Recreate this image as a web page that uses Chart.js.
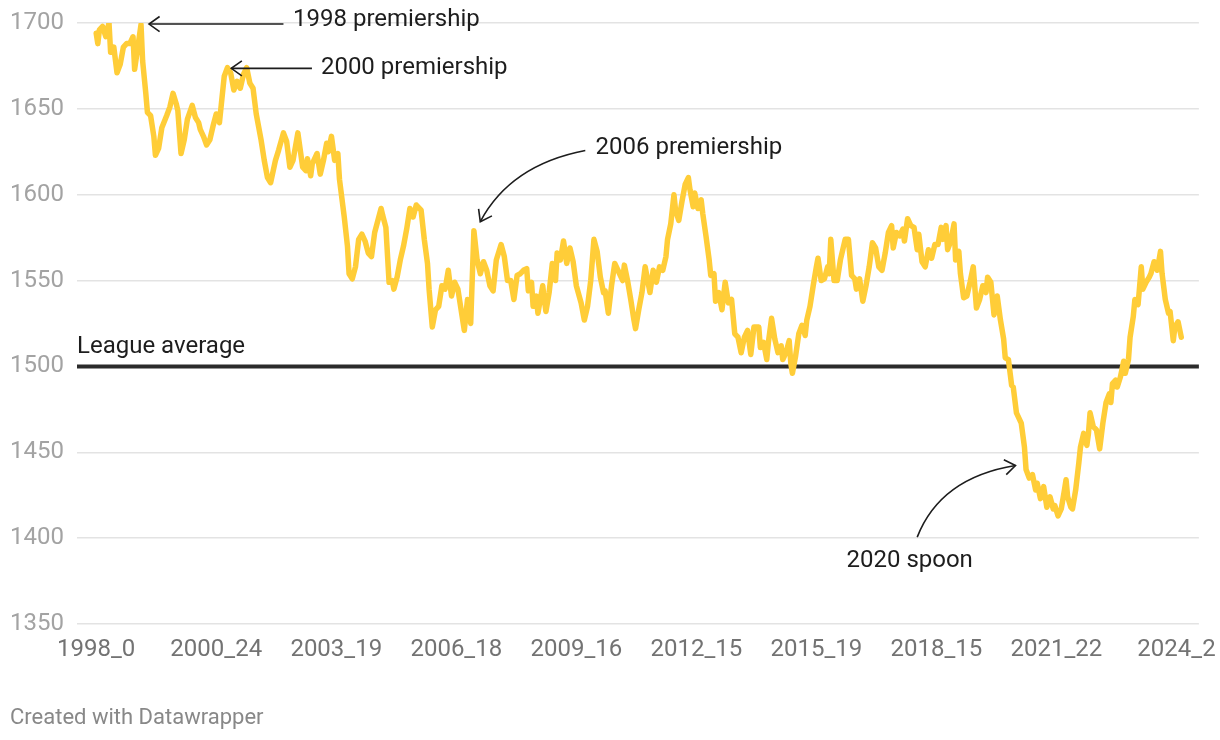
<!DOCTYPE html>
<html>
<head>
<meta charset="utf-8">
<script src="https://cdn.jsdelivr.net/npm/chart.js@4.4.1/dist/chart.umd.min.js"></script>
<style>
  html, body { margin: 0; padding: 0; background: #fff; }
  #wrap { width: 1220px; height: 740px; position: relative; }
</style>
</head>
<body>
<div id="wrap"><canvas id="chart" width="1220" height="740"></canvas></div>
<script>
// round index (season_round counted from 1998_0) and Elo rating
const rounds = [
  0,1,2,4,6,8,9,11,13,15,
  17,19,21,23,24,26,28,29,31,32,
  34,36,37,39,41,44,46,48,50,51,
  53,55,57,60,62,64,65,67,69,71,
  73,75,77,80,82,84,86,88,90,92,
  94,96,98,100,103,105,107,109,112,114,
  117,119,121,123,126,129,131,132,134,135,
  138,140,142,144,145,147,149,151,152,155,
  157,158,160,162,164,166,168,170,172,174,
  176,178,179,181,183,185,186,188,190,192,
  194,196,198,200,203,205,207,208,210,212,
  214,216,218,220,222,224,226,229,230,232,
  234,236,238,240,242,244,246,248,250,253,
  255,257,259,261,263,265,267,269,270,272,
  273,275,276,279,280,281,283,285,287,288,
  290,292,294,296,298,300,303,305,307,309,
  310,311,313,315,317,318,320,322,324,326,
  329,330,332,334,336,337,339,341,343,346,
  348,350,352,354,356,357,359,361,362,364,
  366,368,370,371,373,374,376,378,379,381,
  383,384,386,387,389,391,393,395,397,399,
  401,403,405,407,409,411,414,415,417,419,
  420,422,424,426,428,429,431,433,434,435,
  437,439,441,443,444,446,448,450,451,453,
  455,457,458,459,461,463,465,468,470,472,
  474,475,477,479,481,483,485,487,489,491,
  493,495,497,498,500,502,504,505,507,509,
  511,513,514,516,518,520,522,524,526,528,
  529,531,532,534,536,537,539,540,542,544,
  546,548,550,552,554,556,557,559,561,563,
  565,567,568,570,572,573,575,578,580,581,
  583,585,587,588,590,592,594,596,598,599,
  601,603,605,606,607,609,610,612,614,615,
  617,619,620,621,623,625,627,629,631,633,
  634,635,637,638,640,642,643,645,646,648,
  649,651,653,654,656,658,659,661,663,665,
  666,668,670,671,673,674,676,678
];
const elo = [
  1694,1688,1696,1698,1692,1700,1683,1686,1671,1676,
  1686,1688,1688,1692,1673,1686,1699,1678,1659,1648,
  1646,1634,1623,1627,1639,1646,1651,1659,1653,1649,
  1624,1632,1644,1652,1645,1642,1638,1634,1629,1632,
  1640,1647,1642,1669,1674,1671,1661,1666,1662,1670,
  1674,1665,1662,1647,1632,1620,1610,1607,1620,1626,
  1636,1631,1616,1620,1636,1616,1614,1621,1611,1618,
  1624,1612,1620,1630,1625,1634,1620,1624,1609,1587,
  1570,1554,1551,1558,1574,1577,1573,1566,1564,1578,
  1585,1592,1588,1581,1549,1550,1545,1552,1562,1570,
  1580,1592,1587,1594,1591,1574,1560,1545,1523,1533,
  1535,1547,1545,1556,1541,1549,1545,1527,1521,1539,
  1525,1579,1562,1554,1561,1556,1547,1544,1562,1571,
  1564,1550,1550,1539,1553,1554,1556,1557,1544,1549,
  1535,1541,1531,1547,1539,1532,1543,1560,1550,1566,
  1562,1573,1560,1569,1561,1547,1537,1527,1535,1550,
  1562,1574,1567,1552,1543,1544,1531,1547,1560,1556,
  1550,1559,1550,1539,1527,1522,1533,1543,1558,1543,
  1556,1549,1558,1556,1564,1574,1583,1600,1591,1585,
  1596,1606,1610,1603,1593,1601,1592,1597,1589,1576,
  1562,1553,1554,1538,1543,1533,1549,1537,1539,1519,
  1517,1508,1517,1521,1507,1523,1523,1511,1514,1504,
  1514,1528,1516,1508,1512,1504,1508,1515,1502,1496,
  1506,1519,1524,1518,1527,1535,1547,1558,1563,1550,
  1551,1558,1554,1574,1550,1550,1562,1574,1574,1553,
  1551,1545,1551,1538,1547,1558,1572,1569,1558,1556,
  1566,1578,1582,1569,1578,1576,1580,1573,1586,1582,
  1581,1568,1577,1561,1558,1568,1563,1571,1571,1581,
  1574,1582,1568,1573,1583,1562,1567,1554,1540,1541,
  1549,1558,1534,1539,1547,1543,1552,1549,1530,1541,
  1527,1516,1505,1504,1489,1488,1473,1467,1453,1440,
  1435,1437,1428,1432,1423,1430,1418,1424,1417,1419,
  1413,1417,1428,1434,1424,1418,1417,1428,1444,1453,
  1461,1454,1461,1473,1465,1463,1452,1467,1479,1484,
  1479,1490,1492,1488,1494,1503,1496,1504,1517,1529,
  1539,1536,1558,1545,1549,1552,1554,1561,1556,1567,
  1554,1539,1531,1532,1515,1523,1526,1517
];
const tickRounds = [0, 75, 150, 225, 300, 375, 450, 525, 600, 675];
const tickLabels = ['1998_0', '2000_24', '2003_19', '2006_18', '2009_16', '2012_15', '2015_19', '2018_15', '2021_22', '2024_2'];
const yTicks = [1350, 1400, 1450, 1500, 1550, 1600, 1650, 1700];
const leagueAverage = 1500;
const xMin = -12, xMax = 689;

// notes: text anchor, arrow start, optional curve control, arrow tip (all in data units)
const notes = [
  { text: '1998 premiership', at: [123, 1698], from: [117, 1699.4], to: [33, 1699.4] },
  { text: '2000 premiership', at: [140.4, 1670.2], from: [134.8, 1673.6], to: [84.4, 1673.6] },
  { text: '2006 premiership', at: [312, 1623.6], from: [305.6, 1625.7], via: [258.8, 1617.3], to: [240, 1584.3] },
  { text: '2020 spoon', at: [468.8, 1383], from: [513, 1400.6], via: [527.5, 1435.2], to: [574.4, 1442.3] }
];

const eloPoints = rounds.map((r, i) => ({ x: r, y: elo[i] }));

const notesPlugin = {
  id: 'notes',
  afterDatasetsDraw(chart) {
    const { ctx, scales: { x, y }, chartArea } = chart;
    const px = p => [x.getPixelForValue(p[0]), y.getPixelForValue(p[1])];
    ctx.save();
    ctx.font = '400 24px Roboto';
    ctx.fillStyle = '#1d1d1d';
    ctx.textBaseline = 'alphabetic';
    ctx.textAlign = 'left';
    ctx.fillText('League average', chartArea.left, y.getPixelForValue(1507.8));

    ctx.strokeStyle = '#1d1d1d';
    ctx.lineWidth = 1.6;
    notes.forEach(n => {
      const [tx, ty] = px(n.at);
      ctx.fillText(n.text, tx, ty);
      const [fx, fy] = px(n.from);
      const [ex, ey] = px(n.to);
      ctx.beginPath();
      ctx.moveTo(fx, fy);
      let dx, dy;
      if (n.via) {
        const [cx, cy] = px(n.via);
        ctx.quadraticCurveTo(cx, cy, ex, ey);
        dx = ex - cx; dy = ey - cy;
      } else {
        ctx.lineTo(ex, ey);
        dx = ex - fx; dy = ey - fy;
      }
      ctx.stroke();
      const ang = Math.atan2(dy, dx);
      const len = 13, spread = 0.62;
      ctx.beginPath();
      ctx.moveTo(ex - len * Math.cos(ang - spread), ey - len * Math.sin(ang - spread));
      ctx.lineTo(ex, ey);
      ctx.lineTo(ex - len * Math.cos(ang + spread), ey - len * Math.sin(ang + spread));
      ctx.stroke();
    });

    ctx.font = '400 22px Roboto';
    ctx.fillStyle = '#888';
    ctx.fillText('Created with Datawrapper', 10, 724);
    ctx.restore();
  }
};

new Chart(document.getElementById('chart'), {
  type: 'line',
  data: {
    datasets: [
      {
        label: 'Elo',
        data: eloPoints,
        borderColor: '#ffcd38',
        borderWidth: 5.5,
        pointRadius: 0,
        tension: 0,
        borderJoinStyle: 'round',
        borderCapStyle: 'round',
        order: 0
      },
      {
        label: 'League average',
        data: [{ x: xMin, y: leagueAverage }, { x: xMax, y: leagueAverage }],
        borderColor: '#2b2b2b',
        borderWidth: 4,
        pointRadius: 0,
        order: 1
      }
    ]
  },
  options: {
    responsive: false,
    animation: false,
    devicePixelRatio: 1,
    layout: { padding: { left: 0, right: 19, top: 23, bottom: 76 } },
    plugins: { legend: { display: false }, tooltip: { enabled: false } },
    scales: {
      x: {
        type: 'linear',
        min: xMin,
        max: xMax,
        afterBuildTicks: axis => { axis.ticks = tickRounds.map(v => ({ value: v })); },
        afterFit: axis => { axis.height = 40; },
        grid: { display: false },
        border: { display: false },
        ticks: {
          autoSkip: false,
          maxRotation: 0,
          padding: 4,
          color: '#737373',
          font: { family: 'Roboto', size: 24 },
          callback: v => tickLabels[tickRounds.indexOf(v)]
        }
      },
      y: {
        min: 1350,
        max: 1700,
        afterBuildTicks: axis => { axis.ticks = yTicks.map(v => ({ value: v })); },
        afterFit: axis => { axis.width = 77; axis.paddingTop = 14; axis.paddingBottom = 14; },
        border: { display: false },
        grid: {
          drawTicks: false,
          lineWidth: 1.5,
          color: c => (c.tick && c.tick.value === leagueAverage) ? 'rgba(0,0,0,0)' : '#e3e3e3'
        },
        ticks: {
          padding: 13,
          color: '#a3a3a3',
          font: { family: 'Roboto', size: 24 },
          callback: v => String(v)
        }
      }
    }
  },
  plugins: [notesPlugin]
});
</script>
</body>
</html>
